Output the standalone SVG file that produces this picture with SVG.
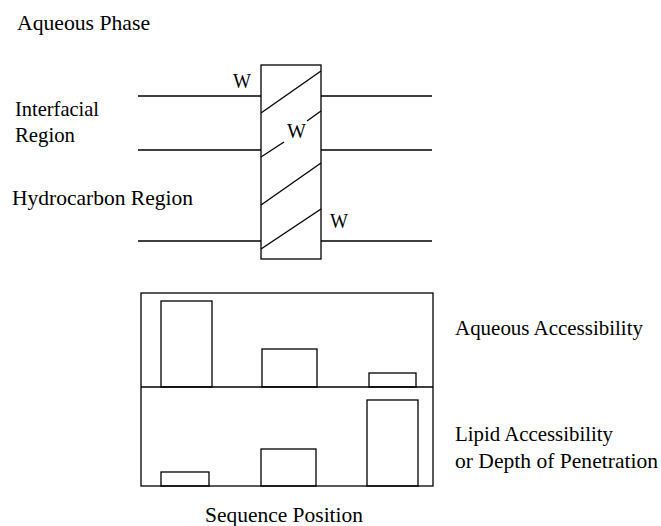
<svg xmlns="http://www.w3.org/2000/svg" width="661" height="526" viewBox="0 0 661 526">
<style>
text{font-family:"Liberation Serif","Times New Roman",serif;font-size:21px;fill:#000}
.s{fill:none;stroke:#000;stroke-width:1.3}
</style>
<rect x="0" y="0" width="661" height="526" fill="#fff"/>
<g id="labels">
<text x="17" y="30" textLength="133" lengthAdjust="spacingAndGlyphs">Aqueous Phase</text>
<text x="15" y="116" textLength="84" lengthAdjust="spacingAndGlyphs">Interfacial</text>
<text x="15" y="142" textLength="60" lengthAdjust="spacingAndGlyphs">Region</text>
<text x="12" y="205" textLength="181" lengthAdjust="spacingAndGlyphs">Hydrocarbon Region</text>
</g>
<g id="membrane-lines" class="s">
<line x1="138" y1="96" x2="261" y2="96"/>
<line x1="321" y1="96" x2="432" y2="96"/>
<line x1="138" y1="150" x2="261" y2="150"/>
<line x1="321" y1="150" x2="432" y2="150"/>
<line x1="138" y1="241" x2="261" y2="241"/>
<line x1="321" y1="241" x2="432" y2="241"/>
</g>
<g id="helix">
<rect class="s" x="261" y="65" width="60" height="194"/>
<g class="s">
<line x1="261" y1="113" x2="321" y2="71"/>
<line x1="261" y1="157" x2="284" y2="142"/>
<line x1="307" y1="121" x2="321" y2="111"/>
<line x1="261" y1="205" x2="321" y2="163"/>
<line x1="261" y1="249" x2="321" y2="209"/>
</g>
<text x="233" y="88" textLength="18" lengthAdjust="spacingAndGlyphs">W</text>
<text x="287" y="138" textLength="19" lengthAdjust="spacingAndGlyphs">W</text>
<text x="330" y="228" textLength="18" lengthAdjust="spacingAndGlyphs">W</text>
</g>
<g id="chart">
<rect class="s" x="141" y="293" width="292" height="193"/>
<line class="s" x1="141" y1="387" x2="433" y2="387"/>
<g id="aqueous-bars" class="s">
<rect x="161" y="301" width="51" height="86"/>
<rect x="262" y="349" width="55" height="38"/>
<rect x="369" y="373" width="47" height="14"/>
</g>
<g id="lipid-bars" class="s">
<rect x="161" y="472" width="48" height="14"/>
<rect x="261" y="449" width="55" height="37"/>
<rect x="367" y="400" width="51" height="86"/>
</g>
<text x="455" y="335" textLength="188" lengthAdjust="spacingAndGlyphs">Aqueous Accessibility</text>
<text x="455" y="441" textLength="158" lengthAdjust="spacingAndGlyphs">Lipid Accessibility</text>
<text x="455" y="468" textLength="203" lengthAdjust="spacingAndGlyphs">or Depth of Penetration</text>
<text x="205" y="522" textLength="158" lengthAdjust="spacingAndGlyphs">Sequence Position</text>
</g>
</svg>
